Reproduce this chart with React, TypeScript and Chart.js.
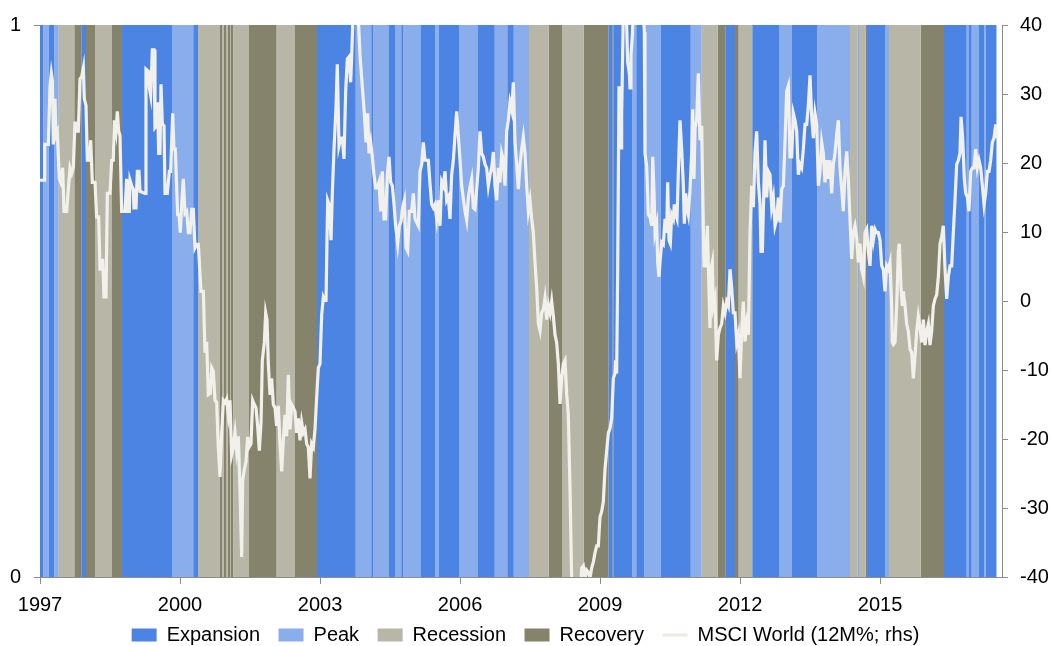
import React, { useEffect, useRef } from 'react';
import { Chart, registerables } from 'chart.js';

Chart.register(...registerables);

// ---- Regime legend / colours ----
const regimeNames = ['Expansion', 'Peak', 'Recession', 'Recovery'];
const regimeColors = ['#4B84E2', '#8AADEC', '#B8B6A6', '#85836C'];
const lineLabel = 'MSCI World (12M%; rhs)';
const lineColor = '#F2F0EB';

// ---- Regime bands: start date (decimal year) and regime of each spell ----
const bandStart = [
  1997.000, 1997.071, 1997.186, 1997.306, 1997.401, 1997.735, 1997.894, 1997.986, 1998.179, 1998.543,
  1998.757, 1999.829, 2000.285, 2000.386, 2000.857, 2000.900, 2000.932, 2000.986, 2001.018, 2001.071,
  2001.093, 2001.146, 2001.479, 2002.072, 2002.464, 2002.936, 2003.765, 2004.099, 2004.136, 2004.468,
  2004.607, 2004.742, 2004.789, 2005.164, 2005.471, 2005.546, 2005.979, 2006.386, 2006.744, 2007.014,
  2007.151, 2007.479, 2007.901, 2008.186, 2008.651, 2009.186, 2009.263, 2009.285, 2009.685, 2009.778,
  2009.947, 2010.301, 2010.944, 2011.179, 2011.522, 2011.694, 2011.893, 2011.972, 2012.264, 2012.846,
  2013.114, 2013.650, 2014.357, 2014.522, 2014.550, 2014.694, 2014.722, 2015.107, 2015.193, 2015.872,
  2016.371, 2016.857, 2016.896, 2016.964, 2017.121, 2017.228, 2017.264,
];
const bandRegime = [
  'Expansion', 'Peak', 'Expansion', 'Peak', 'Recession', 'Recovery', 'Expansion', 'Recovery', 'Recession', 'Recovery',
  'Expansion', 'Peak', 'Expansion', 'Recession', 'Recovery', 'Recession', 'Recovery', 'Recession', 'Recovery', 'Recession',
  'Recovery', 'Recession', 'Recovery', 'Recession', 'Recovery', 'Expansion', 'Peak', 'Expansion', 'Peak', 'Expansion',
  'Peak', 'Expansion', 'Peak', 'Expansion', 'Peak', 'Expansion', 'Peak', 'Expansion', 'Peak', 'Expansion',
  'Peak', 'Recession', 'Recovery', 'Recession', 'Recovery', 'Expansion', 'Recovery', 'Expansion', 'Peak', 'Expansion',
  'Peak', 'Expansion', 'Peak', 'Recession', 'Recovery', 'Expansion', 'Recovery', 'Recession', 'Expansion', 'Peak',
  'Expansion', 'Peak', 'Recession', 'Peak', 'Recession', 'Recovery', 'Expansion', 'Peak', 'Recession', 'Recovery',
  'Expansion', 'Peak', 'Expansion', 'Peak', 'Expansion', 'Peak', 'Expansion',
];
const bandEnd = 2017.5;

// ---- MSCI World, 12-month % change: [decimal year, value] ----
const msciWorld12m: [number, number][] = [
  [1997.000,17.5],[1997.086,17.5],[1997.100,22.7],[1997.179,22.7],[1997.214,31],[1997.243,33],[1997.264,32],[1997.286,22.7],[1997.321,29.3],[1997.343,24],
  [1997.371,24.5],[1997.414,17.7],[1997.443,17.2],[1997.486,19.3],[1997.514,13],[1997.571,13],[1997.607,16.2],[1997.643,19.3],[1997.679,18.5],[1997.714,19.3],
  [1997.750,26],[1997.771,24.6],[1997.821,24.6],[1997.857,32.2],[1997.893,32.5],[1997.929,33.8],[1997.950,29.3],[1997.986,28.3],[1998.014,20.4],[1998.057,20.4],
  [1998.086,23.3],[1998.121,17.2],[1998.179,17.2],[1998.214,12.2],[1998.257,12.2],[1998.286,4.6],[1998.321,4.6],[1998.343,6.1],[1998.371,0.6],[1998.414,0.6],
  [1998.443,15.6],[1998.500,15.6],[1998.536,20.4],[1998.571,20.4],[1998.593,26.2],[1998.629,24.6],[1998.657,27.5],[1998.686,24.6],[1998.714,24],[1998.750,13],
  [1998.821,13],[1998.857,17.7],[1998.879,13],[1998.914,13],[1998.929,17.5],[1998.964,16.7],[1999.000,16.2],[1999.014,13.5],[1999.057,13.5],[1999.086,18.8],
  [1999.121,18.8],[1999.143,15.9],[1999.250,15.6],[1999.271,33.6],[1999.321,33.3],[1999.343,30.9],[1999.371,29.8],[1999.407,36.4],[1999.443,36.4],[1999.464,25.1],
  [1999.500,25.4],[1999.521,28.8],[1999.543,21.4],[1999.571,21.4],[1999.593,31.4],[1999.621,25.7],[1999.657,25.4],[1999.679,15.6],[1999.729,15.6],[1999.771,18.8],
  [1999.800,18.8],[1999.843,27.2],[1999.871,22],[1999.900,22],
  [1999.950,12.5],[1999.979,12.5],[2000.007,9.9],[2000.036,14],[2000.071,17.7],[2000.107,12.7],[2000.143,13],[2000.179,9.9],[2000.214,9.9],[2000.250,13.3],
  [2000.286,13.3],[2000.321,7.7],[2000.357,8.2],[2000.393,8.2],[2000.450,1.4],[2000.500,1.4],[2000.536,-7.5],[2000.571,-5.9],[2000.607,-13.6],[2000.650,-13.4],
  [2000.679,-9.7],[2000.714,-10.2],[2000.750,-14.4],[2000.786,-14.7],[2000.821,-21.3],[2000.857,-25.5],[2000.893,-19.1],[2000.929,-14.4],[2000.964,-14.7],[2001.000,-14.2],
  [2001.036,-16.5],[2001.071,-14.4],[2001.107,-22.3],[2001.143,-21.2],[2001.179,-19.1],[2001.214,-21.7],[2001.250,-19.6],[2001.286,-27.5],[2001.321,-37.1],[2001.343,-26],
  [2001.379,-24.4],[2001.414,-23.3],[2001.450,-19.7],[2001.479,-21.2],[2001.521,-20.7],[2001.557,-14.4],[2001.593,-15],[2001.629,-15.5],[2001.664,-18.1],[2001.700,-21.7],
  [2001.736,-17.6],[2001.764,-8.6],[2001.807,-6],[2001.836,-1.7],[2001.864,-2.7],[2001.893,-9.1],[2001.929,-13.6],[2001.964,-11.2],[2002.000,-15],[2002.036,-15.5],
  [2002.071,-18.1],[2002.107,-15.2],[2002.143,-20.7],[2002.179,-24.7],[2002.214,-20.2],[2002.250,-16.5],[2002.286,-19.6],[2002.321,-10.7],[2002.357,-18.6],[2002.393,-15],
  [2002.429,-15.5],[2002.464,-16],[2002.500,-19.1],[2002.536,-17],[2002.571,-20.2],[2002.607,-17.6],[2002.643,-19.1],[2002.679,-18.6],[2002.714,-20.7],[2002.750,-21.2],
  [2002.786,-25.7],[2002.821,-20.7],[2002.857,-21.2],[2002.893,-18.6],[2002.929,-13.9],[2002.964,-9.7],[2003.000,-9.1],[2003.036,-2],[2003.071,0.5],
  [2003.093,0.1],[2003.129,0.1],[2003.164,14.6],[2003.200,13.9],[2003.236,8.8],[2003.264,15.6],[2003.300,22],[2003.343,28],[2003.371,34.3],[2003.407,22.5],
  [2003.443,23.6],[2003.479,23.6],[2003.514,20.6],[2003.550,30.4],[2003.586,35.1],[2003.621,35.4],[2003.657,31.7],[2003.679,35.4],[2003.700,39.9],[2003.729,43],
  [2003.764,44],[2003.800,43],[2003.821,41],[2003.857,35.7],[2003.893,32.3],[2003.950,27.2],[2003.986,23],[2004.021,27.2],[2004.050,21.4],[2004.086,23],
  [2004.121,20.9],[2004.157,18.3],[2004.193,16.4],[2004.229,16.4],[2004.264,17.2],[2004.300,13],[2004.336,18.8],[2004.371,11.9],[2004.407,11.9],[2004.443,18.3],
  [2004.479,20.9],[2004.514,17.2],[2004.550,16.7],[2004.586,14],[2004.621,10.9],[2004.664,8.3],[2004.700,10.9],[2004.736,11.5],[2004.771,13.6],[2004.807,14.6],
  [2004.843,7.7],[2004.879,7.2],[2004.914,13],[2004.964,13],[2005.000,15.6],[2005.036,11.9],[2005.071,11.4],[2005.107,10.9],[2005.143,18.8],[2005.179,19.8],
  [2005.214,23],[2005.250,20.4],[2005.286,20.4],[2005.321,20.4],[2005.357,17],[2005.393,14],[2005.429,13.5],[2005.464,14],[2005.500,11.9],[2005.536,14.6],
  [2005.571,10.9],[2005.607,17.3],[2005.643,16.7],[2005.679,18.8],[2005.714,14.6],[2005.750,15.1],[2005.786,11.9],[2005.821,18.3],[2005.857,20.4],[2005.893,24],
  [2005.929,27.5],[2005.964,24],[2006.000,20.4],[2006.036,16.7],
  [2006.107,13],[2006.143,11.7],[2006.179,15],[2006.214,16.5],[2006.250,17.7],[2006.286,13.5],[2006.321,13.3],[2006.357,16.2],[2006.393,19.3],[2006.429,24.6],
  [2006.464,21.4],[2006.500,20.9],[2006.536,19.8],[2006.571,19.3],[2006.607,16.7],[2006.643,18.3],[2006.679,19.3],[2006.714,21.6],[2006.750,16.7],[2006.786,14.6],
  [2006.821,19.3],[2006.857,17.2],[2006.893,21.4],[2006.929,20.4],[2006.964,16.7],[2007.000,24.6],[2007.036,26.2],[2007.071,28.8],[2007.107,27.7],[2007.143,31.7],
  [2007.179,23],[2007.214,19.8],[2007.250,16.2],[2007.286,19.8],[2007.321,22],[2007.357,23.8],[2007.393,21.4],[2007.429,16.7],[2007.464,13],[2007.500,14.6],
  [2007.536,11.9],[2007.571,9.9],[2007.607,5.6],[2007.643,1.9],[2007.679,-3.3],[2007.714,-4.3],[2007.750,-1.7],[2007.786,-1.2],[2007.821,0.4],[2007.857,-2.7],
  [2007.893,-0.6],[2007.929,-1.7],[2007.964,0],[2008.000,-2.2],[2008.036,-4.9],[2008.071,-6],[2008.107,-9.1],[2008.143,-14.9],[2008.179,-11.2],[2008.214,-9.1],
  [2008.250,-8.6],[2008.286,-13.5],[2008.321,-16.5],[2008.357,-27.1],[2008.393,-40.5],[2008.429,-46],[2008.479,-48],[2008.536,-46],[2008.586,-42],[2008.607,-38.7],
  [2008.643,-38.4],[2008.679,-40.2],[2008.714,-39],[2008.750,-39.3],[2008.786,-40.2],[2008.821,-38.7],[2008.857,-37.8],[2008.893,-36.5],
  [2008.929,-35.5],[2008.964,-35.5],[2009.000,-31.3],[2009.036,-30.5],[2009.071,-29.1],[2009.107,-24.4],[2009.143,-21.7],[2009.179,-19.1],[2009.214,-18.5],[2009.250,-17],
  [2009.286,-11.2],[2009.321,-10.5],[2009.336,-8.6],[2009.357,-10.5],[2009.379,4.6],[2009.407,30.9],[2009.429,30.9],[2009.450,22.2],[2009.464,27],[2009.500,42],
  [2009.550,42],[2009.571,39.9],[2009.593,34.6],[2009.629,33],[2009.643,30.9],[2009.664,35.7],[2009.693,38.5],[2009.714,42],[2009.786,45],[2009.857,45],
  [2009.929,42],[2009.950,39],[2009.964,21.4],[2010.000,19.6],[2010.036,12.5],[2010.071,12.2],[2010.107,10.9],[2010.129,20.9],[2010.157,15.8],[2010.179,9.9],
  [2010.214,11.1],[2010.236,5.6],[2010.264,3.5],[2010.286,5.6],[2010.321,8.5],[2010.357,8.2],[2010.393,11.9],[2010.429,9.9],[2010.450,17.2],[2010.479,8.8],
  [2010.507,8.3],[2010.536,12.5],[2010.571,11.9],[2010.593,14],[2010.621,12.5],[2010.650,11.9],[2010.679,18.8],[2010.714,26.2],[2010.750,22],[2010.786,16.7],
  [2010.807,11.2],[2010.836,15.6],[2010.864,13.5],[2010.893,12.5],[2010.929,16.2],[2010.964,21.4],[2010.986,27.8],[2011.014,17.7],[2011.036,25.1],[2011.071,26.2],
  [2011.107,33],[2011.143,23.3],[2011.179,25.4],[2011.200,16.2],[2011.229,5.1],[2011.264,5.1],[2011.300,10.9],[2011.321,5.1],[2011.357,-3.9],[2011.379,4.6],
  [2011.407,5.6],[2011.429,-0.7],[2011.464,0.4],[2011.500,-8.6],[2011.536,-4.9],[2011.571,-3.9],[2011.607,-3.3],[2011.643,-0.7],[2011.679,-1.7],[2011.714,-0.1],
  [2011.750,-0.7],[2011.786,4.6],[2011.821,2],[2011.857,-1.7],[2011.893,-1.7],[2011.929,-6],[2011.964,-4.9],
  [2012.000,-11.2],[2012.036,-4.4],[2012.071,-0.1],[2012.107,-5.9],[2012.143,-3.3],[2012.179,-4.9],[2012.214,9.9],[2012.250,16.7],[2012.286,13.6],[2012.321,21.4],
  [2012.357,24.6],[2012.393,17.2],[2012.429,14],[2012.450,7.2],[2012.479,7.2],[2012.507,15],[2012.536,23.3],[2012.571,15],[2012.607,18.8],[2012.643,18.3],
  [2012.679,13.6],[2012.714,15],[2012.750,10.9],[2012.786,11.9],[2012.821,15],[2012.857,11.4],[2012.893,16.2],[2012.929,16.7],[2012.964,23],[2013.000,30.4],
  [2013.036,31.2],[2013.071,20.9],[2013.107,20.9],[2013.143,27.2],[2013.179,26.2],[2013.214,24.6],[2013.250,18.3],[2013.286,19.8],[2013.321,19.3],[2013.357,22],
  [2013.393,25.6],[2013.429,25.6],[2013.464,28.3],[2013.500,32.7],[2013.536,26.7],[2013.571,23.6],[2013.607,27.2],[2013.643,25.6],[2013.679,16.7],[2013.714,18.8],
  [2013.750,23],[2013.786,21.4],[2013.821,17.2],[2013.857,20.4],[2013.893,17.7],[2013.929,20.4],[2013.964,15.6],[2014.000,19.8],[2014.036,21.4],[2014.071,24.1],
  [2014.107,26.2],[2014.143,19.3],[2014.179,16.2],[2014.214,13],[2014.250,18.8],[2014.286,21.7],[2014.321,17.7],[2014.357,11.9],[2014.393,6.1],[2014.429,9.9],
  [2014.464,10.9],[2014.500,9.3],[2014.536,5.6],[2014.571,8.3],[2014.607,4.6],[2014.643,3.5],[2014.679,9.9],[2014.714,10.4],[2014.750,7.2],[2014.786,5.1],
  [2014.821,10.9],[2014.857,8.8],[2014.893,10.4],[2014.929,9.9],[2014.964,9.9],[2015.000,8.8],[2015.036,5.1],[2015.071,4.6],[2015.107,1.4],
  [2015.143,5.1],[2015.179,4.6],[2015.214,5.6],[2015.250,-0.7],[2015.264,-6],[2015.286,-6.3],[2015.321,-6],[2015.357,-0.7],[2015.393,7.2],[2015.414,8.3],
  [2015.450,1.9],[2015.479,-0.7],[2015.500,1.4],[2015.536,-0.7],[2015.571,-3.3],[2015.607,-4.4],[2015.643,-7],[2015.679,-7.5],[2015.714,-11.2],[2015.750,-8],
  [2015.786,-4.4],[2015.821,-2.2],[2015.857,-3.8],[2015.893,-6],[2015.929,-2.7],[2015.964,-6.4],[2016.000,-4.4],[2016.036,-3.3],[2016.071,-6.4],[2016.107,-4.4],
  [2016.143,-0.7],[2016.179,0.3],[2016.214,0.9],[2016.250,3.5],[2016.286,8.3],[2016.321,9.3],[2016.357,10.9],[2016.393,4.6],[2016.429,0.3],[2016.464,3.5],
  [2016.500,5.1],[2016.536,5.1],[2016.571,9.9],[2016.607,14.6],[2016.643,19.8],[2016.679,20.4],[2016.714,21.4],[2016.736,26.7],[2016.771,23.6],[2016.807,17.7],
  [2016.836,15.6],[2016.871,15.1],[2016.907,13],[2016.943,18.8],[2016.979,19.3],[2017.014,19.3],[2017.050,22],[2017.086,19.3],[2017.121,20.4],[2017.157,19.3],
  [2017.193,16.7],[2017.229,14],[2017.264,15.6],[2017.300,18.8],[2017.336,18.8],[2017.371,20.4],[2017.407,23],[2017.443,23.6],[2017.479,25.6],[2017.500,23.6],
];

// ---- Axes ----
const xTickYears = [1997, 2000, 2003, 2006, 2009, 2012, 2015];
const xMin = 1997;
const xMax = 2017.614;
const leftTicks = [0, 1];
const rightMin = -40;
const rightMax = 40;
const rightStep = 10;

const FONT = "'Liberation Sans', Arial, Helvetica, sans-serif";
const AXIS_COLOR = '#8C8C8C';

// moves the legend row up a little without changing its item spacing
const legendNudge = {
  id: 'legendNudge',
  afterLayout(chart: any) {
    const lg = chart.legend;
    if (lg) {
      lg.top -= 6.5;
      lg.bottom -= 6.5;
    }
  },
};

export default function App() {
  const canvasRef = useRef<HTMLCanvasElement | null>(null);

  useEffect(() => {
    document.body.style.margin = '0';
    const canvas = canvasRef.current;
    if (!canvas) return;

    Chart.defaults.font.family = FONT;
    Chart.defaults.font.size = 20;
    Chart.defaults.color = '#000';

    const bandDatasets = regimeNames.map((name, r) => ({
      type: 'line' as const,
      label: name,
      data: [
        ...bandStart.map((t, i) => ({ x: t, y: bandRegime[i] === name ? 1 : 0 })),
        { x: bandEnd, y: 0 },
      ],
      yAxisID: 'yL',
      stepped: 'before' as const,
      fill: 'origin',
      backgroundColor: regimeColors[r],
      borderColor: 'rgba(0,0,0,0)',
      borderWidth: 0,
      pointRadius: 0,
      pointHoverRadius: 0,
      order: 1,
    }));

    const lineDataset = {
      type: 'line' as const,
      label: lineLabel,
      data: msciWorld12m.map(([x, y]) => ({ x, y })),
      yAxisID: 'yR',
      borderColor: lineColor,
      backgroundColor: lineColor,
      borderWidth: 3.2,
      pointRadius: 0,
      pointHoverRadius: 0,
      tension: 0,
      fill: false,
      clip: 0,
      order: 0,
    };

    const chart = new Chart(canvas, {
      type: 'line',
      data: { datasets: [...bandDatasets, lineDataset] as any },
      plugins: [legendNudge],
      options: {
        responsive: false,
        animation: false,
        events: [],
        layout: { padding: { top: 25, bottom: -15.5, left: 0, right: 0 } },
        plugins: {
          tooltip: { enabled: false },
          legend: {
            position: 'bottom',
            labels: {
              usePointStyle: true,
              pointStyleWidth: 25,
              boxHeight: 13,
              padding: 18.5,
              font: { size: 20, family: FONT },
              color: '#000',
              generateLabels: (c: any) =>
                c.data.datasets.map((ds: any, i: number) => {
                  const isLine = ds.label === lineLabel;
                  return {
                    text: ds.label,
                    fillStyle: isLine ? 'rgba(0,0,0,0)' : ds.backgroundColor,
                    strokeStyle: isLine ? '#ECEAE3' : ds.backgroundColor,
                    lineWidth: isLine ? 3 : 0,
                    pointStyle: isLine ? 'line' : 'rect',
                    hidden: false,
                    datasetIndex: i,
                    fontColor: '#000',
                  };
                }),
            },
          },
        },
        scales: {
          x: {
            type: 'linear',
            min: xMin,
            max: xMax,
            afterBuildTicks: (s: any) => {
              s.ticks = xTickYears.map((v) => ({ value: v }));
            },
            afterFit: (s: any) => {
              s.height = 36;
            },
            ticks: {
              autoSkip: false,
              maxRotation: 0,
              padding: 9,
              font: { size: 20, family: FONT },
              color: '#000',
              callback: (v: any) => String(v),
            },
            grid: { drawOnChartArea: false, drawTicks: true, tickLength: 7, color: AXIS_COLOR },
            border: { display: true, color: AXIS_COLOR },
          },
          yL: {
            type: 'linear',
            position: 'left',
            min: 0,
            max: 1,
            afterBuildTicks: (s: any) => {
              s.ticks = leftTicks.map((v) => ({ value: v }));
            },
            afterFit: (s: any) => {
              s.width = 40;
            },
            ticks: {
              padding: 13,
              font: { size: 20, family: FONT },
              color: '#000',
              callback: (v: any) => String(v),
            },
            grid: { drawOnChartArea: false, drawTicks: true, tickLength: 6, color: AXIS_COLOR },
            border: { display: true, color: AXIS_COLOR },
          },
          yR: {
            type: 'linear',
            position: 'right',
            min: rightMin,
            max: rightMax,
            afterFit: (s: any) => {
              s.width = 49;
            },
            ticks: {
              stepSize: rightStep,
              padding: 12,
              font: { size: 20, family: FONT },
              color: '#000',
              callback: (v: any) => String(v),
            },
            grid: { drawOnChartArea: false, drawTicks: true, tickLength: 6, color: AXIS_COLOR },
            border: { display: true, color: AXIS_COLOR },
          },
        },
      } as any,
    });

    return () => {
      chart.destroy();
    };
  }, []);

  return (
    <div style={{ width: 1051, height: 646, background: '#fff' }}>
      <canvas ref={canvasRef} width={1051} height={646} style={{ display: 'block' }} />
    </div>
  );
}
